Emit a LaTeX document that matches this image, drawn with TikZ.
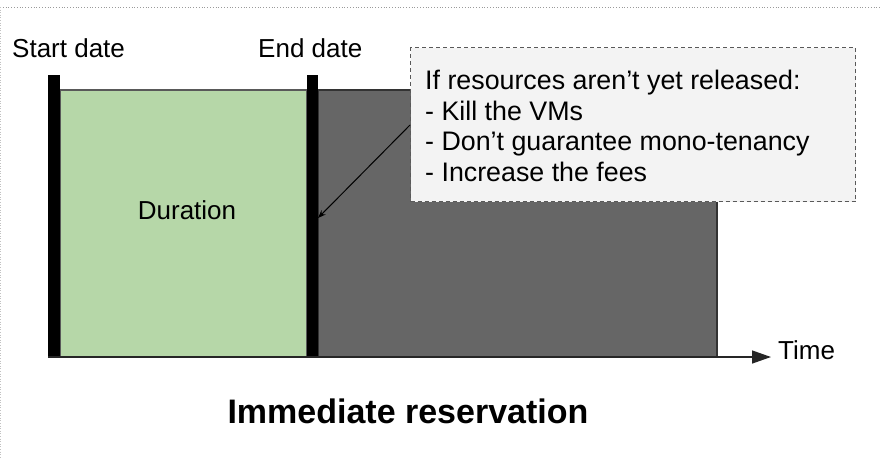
\documentclass[tikz,border=0pt]{standalone}
\usepackage{fontspec}
\setmainfont{Liberation Sans}
\usetikzlibrary{arrows.meta}
\definecolor{durgreen}{HTML}{B6D7A8}
\definecolor{overgray}{HTML}{666666}
\definecolor{notefill}{HTML}{F3F3F3}
\definecolor{edgegray}{HTML}{595959}
\definecolor{framegray}{HTML}{9A9A9A}
\tikzset{
  label26/.style={font=\fontsize{26}{30}\selectfont, inner sep=0pt},
  notelabel/.style={font=\fontsize{26.8}{30}\selectfont, inner sep=0pt},
  datebar/.style={fill=black},
  notebox/.style={draw=edgegray, dashed, line width=1pt, fill=notefill,
    dash pattern=on 4pt off 3pt, inner sep=0pt, minimum width=445pt, minimum height=154pt},
}
\begin{document}
\begin{tikzpicture}[x=1pt,y=-1pt]
  \useasboundingbox (0,0) rectangle (881,459);
  % page frame
  \draw[framegray, dotted, line width=0.8pt] (0,7) -- (881,7);
  \draw[framegray!60, dotted, line width=0.6pt] (0.5,7) -- (0.5,459);

  % reservation period and the period after it
  \draw[edgegray, line width=1.2pt, fill=durgreen] (60,90) rectangle (307,357);
  \draw[black!80, line width=1.2pt, fill=overgray] (318,90) rectangle (717,357);
  % start and end markers
  \fill[datebar] (48,75) rectangle (60,357);
  \fill[datebar] (307,75) rectangle (318,357);

  % time axis
  \coordinate (axstart) at (48,357);
  \coordinate (axend) at (771,357);
  \draw[black!85, line width=1.4pt, -{Triangle[length=19pt,width=13pt]}] (axstart) -- (axend);
  \node[label26, anchor=base west] (time) at (778,359) {Time};

  % labels
  \node[label26, anchor=base west] (start) at (12,57) {Start date};
  \node[label26, anchor=base west] (end) at (258,57) {End date};
  \node[label26, anchor=base] (dur) at (187,219) {Duration};

  % note box
  \node[notebox, anchor=north west] (note) at (410,47) {};
  \node[notelabel, anchor=base west, align=left] (notetext) at (425,181)
    {If resources aren’t yet released:\\[0.5pt]- Kill the VMs\\[0.5pt]- Don’t guarantee mono-tenancy\\[0.5pt]- Increase the fees};
  \coordinate (notetip) at (note.west |- 0,125);
  \coordinate (endmark) at (318,218);
  \draw[black, line width=1pt, -{Stealth[length=8pt,width=6pt]}] (notetip) -- (endmark);

  % title
  \node[inner sep=0pt, anchor=base, font=\fontsize{34}{40}\selectfont\bfseries] (title) at (408,423) {Immediate reservation};
\end{tikzpicture}
\end{document}
